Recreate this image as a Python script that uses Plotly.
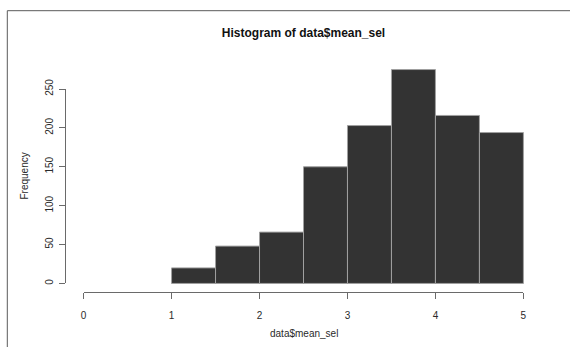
import plotly.graph_objects as go

# ---- data ----
bin_starts = [1.0, 1.5, 2.0, 2.5, 3.0, 3.5, 4.0, 4.5]
bin_width = 0.5
counts = [20, 48, 66, 150, 203, 275, 216, 194]
x_ticks = [0, 1, 2, 3, 4, 5]
y_ticks = [0, 50, 100, 150, 200, 250]

title_text = "Histogram of data$mean_sel"
x_label = "data$mean_sel"
y_label = "Frequency"

# ---- layout geometry (R-style usr box with 4% padding) ----
W, H = 570, 347
ML, MR, MT, MB = 66, 29, 61, 55
x_lo, x_hi = 0, 5
y_lo, y_hi = 0, max(counts)
xpad = 0.04 * (x_hi - x_lo)
ypad = 0.04 * (y_hi - y_lo)
xr = [x_lo - xpad, x_hi + xpad]
yr = [y_lo - ypad, y_hi + ypad]
pw = W - ML - MR
ph = H - MT - MB

def xdom(a, b):
    return [(a - xr[0]) / (xr[1] - xr[0]), (b - xr[0]) / (xr[1] - xr[0])]

def ydom(a, b):
    return [(a - yr[0]) / (yr[1] - yr[0]), (b - yr[0]) / (yr[1] - yr[0])]

def px2paper_x(px):
    return (px - ML) / pw

def px2paper_y(py):
    return 1 - (py - MT) / ph

centers = [s + bin_width / 2 for s in bin_starts]

FONT = "Liberation Sans, Arial, sans-serif"
TXT = "#2a2a2a"
LINE = "#6a6a6a"

fig = go.Figure()
# empty helper traces so the R-style partial axes get drawn (added first, beneath)
fig.add_trace(go.Scatter(x=[], y=[], xaxis="x2", yaxis="y", showlegend=False,
                         hoverinfo="skip"))
fig.add_trace(go.Scatter(x=[], y=[], xaxis="x", yaxis="y2", showlegend=False,
                         hoverinfo="skip"))
fig.add_trace(go.Bar(
    x=centers, y=counts, width=[bin_width] * len(counts),
    marker=dict(color="#333333", line=dict(color="#a0a0a0", width=1)),
    showlegend=False, hoverinfo="skip",
))

fig.update_layout(
    width=W, height=H,
    margin=dict(l=ML, r=MR, t=MT, b=MB, pad=0),
    paper_bgcolor="white", plot_bgcolor="rgba(0,0,0,0)",
    font=dict(family=FONT, size=10, color=TXT),
    xaxis=dict(range=xr, visible=False, domain=[0, 1], fixedrange=True),
    yaxis=dict(range=yr, visible=False, domain=[0, 1], fixedrange=True),
    xaxis2=dict(
        domain=xdom(x_lo, x_hi), range=[x_lo, x_hi], anchor="y",
        showline=True, linecolor=LINE, linewidth=1,
        ticks="outside", ticklen=6, tickcolor=LINE, tickwidth=1,
        tickvals=x_ticks, ticktext=[str(v) for v in x_ticks],
        showgrid=False, zeroline=False, ticklabelstandoff=8,
        tickfont=dict(size=10, color=TXT, family=FONT), fixedrange=True,
    ),
    yaxis2=dict(
        domain=ydom(0, 250), range=[0, 250], anchor="x",
        showline=True, linecolor=LINE, linewidth=1,
        ticks="outside", ticklen=6, tickcolor=LINE, tickwidth=1,
        tickvals=y_ticks, ticktext=[str(v) for v in y_ticks],
        tickangle=-90,
        showgrid=False, zeroline=False, ticklabelstandoff=2,
        tickfont=dict(size=10, color=TXT, family=FONT), fixedrange=True,
    ),
    title=dict(
        text=title_text, x=0.5, xref="paper", xanchor="center",
        y=1 - 33 / H, yref="container", yanchor="middle",
        font=dict(size=12, family=FONT, color="#111111", weight=700),
    ),
    annotations=[
        dict(text=x_label, xref="paper", yref="paper", x=0.5, y=0,
             xanchor="center", yanchor="middle", yshift=-(333 - (MT + ph)),
             showarrow=False, font=dict(size=10, color=TXT, family=FONT)),
        dict(text=y_label, xref="paper", yref="paper", x=0, y=0.5,
             xanchor="center", yanchor="middle", xshift=-(ML - 24), textangle=-90,
             showarrow=False, font=dict(size=10, color=TXT, family=FONT)),
    ],
    shapes=[
        dict(type="line", xref="paper", yref="paper",
             x0=px2paper_x(7.3), x1=px2paper_x(W + 5),
             y0=px2paper_y(10.7), y1=px2paper_y(10.7),
             line=dict(color="#5a5a5a", width=1)),
        dict(type="line", xref="paper", yref="paper",
             x0=px2paper_x(7.3), x1=px2paper_x(7.3),
             y0=px2paper_y(10.7), y1=px2paper_y(H + 5),
             line=dict(color="#5a5a5a", width=1)),
    ],
    bargap=0,
)

fig.write_html(
    "out.html",
    config={"displayModeBar": False, "staticPlot": True},
    post_script="document.body.style.margin='0';document.body.style.overflow='hidden';",
)
